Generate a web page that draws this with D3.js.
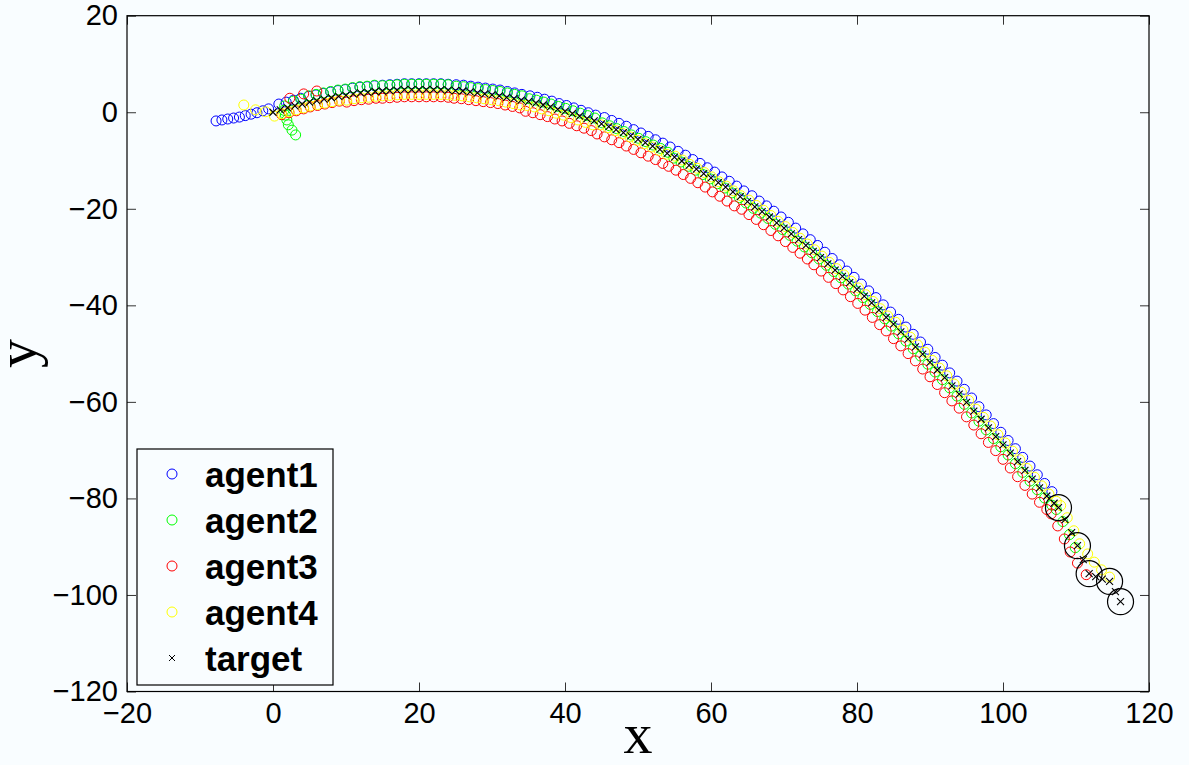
<!DOCTYPE html>
<html>
<head>
<meta charset="utf-8">
<script src="https://cdn.jsdelivr.net/npm/d3@7"></script>
<style>
  html, body { margin: 0; padding: 0; background: #f9fdff; }
  svg { display: block; }
  .tick text { font-family: "Liberation Sans", Arial, sans-serif; font-size: 29px; fill: #000; }
  .tick line { stroke: #333; }
</style>
</head>
<body>
<div id="chart"></div>
<script>
// Dados
const xTicks = [-20, 0, 20, 40, 60, 80, 100, 120];
const yTicks = [-120, -100, -80, -60, -40, -20, 0, 20];
const legendLabels = ['agent1', 'agent2', 'agent3', 'agent4', 'target'];

const targetX = [0,1,2,3,4,5,6,7,8,9,10,11,12,13,14,15,16,17,18,19,20,21,22,23,24,25,26,27,28,29,
  30,31,32,33,34,35,36,37,38,39,40,41,42,43,44,45,46,47,48,49,50,51,52,53,54,55,56,57,58,59,
  60,61,62,63,64,65,66,67,68,69,70,71,72,73,74,75,76,77,78,79,80,81,82,83,84,85,86,87,88,89,
  90,91,92,93,94,95,96,97,98,99,100,101,102,103,104,105,106,107,
  107.6,108.5,109.4,110.2,111.0,111.8,112.7,113.6,114.6,115.4,116.1];
const targetY = [0,0.5,0.9,1.3,1.7,2.1,2.4,2.7,3.0,3.3,
  3.5,3.8,4.0,4.1,4.3,4.4,4.5,4.6,4.7,4.7,
  4.7,4.7,4.7,4.7,4.6,4.5,4.4,4.2,4.0,3.8,
  3.6,3.4,3.1,2.8,2.5,2.2,1.9,1.5,1.1,0.6,
  0.2,-0.3,-0.8,-1.3,-1.8,-2.4,-3.0,-3.6,-4.2,-4.9,
  -5.6,-6.3,-7.0,-7.7,-8.5,-9.3,-10.1,-11.0,-11.8,-12.7,
  -13.6,-14.6,-15.5,-16.5,-17.5,-18.5,-19.6,-20.6,-21.7,-22.9,
  -24.0,-25.2,-26.4,-27.6,-28.8,-30.1,-31.4,-32.7,-34.0,-35.3,
  -36.7,-38.1,-39.5,-41.0,-42.5,-43.9,-45.5,-47.0,-48.6,-50.1,
  -51.8,-53.4,-55.0,-56.7,-58.4,-60.1,-61.9,-63.6,-65.4,-67.2,
  -68.9,-70.6,-72.4,-74.2,-76.0,-77.8,-79.5,-81.0,
  -81.9,-84.4,-87.1,-89.8,-92.7,-95.6,-96.2,-96.7,-97.2,-99.3,-101.4];

const agent1X = [-7.8,-7.0,-6.2,-5.4,-4.6,-3.8,-3.0,-2.2,-1.4,-0.6,
  0.8,1.8,2.8,3.8,4.9,5.9,6.9,7.9,8.9,9.9,
  10.9,11.9,12.9,13.9,15,16,17,18,19,20,
  21,22,23,24,25.1,26.1,27.1,28.1,29.1,30.1,
  31.1,32.1,33.1,34.1,35.2,36.2,37.2,38.2,39.2,40.2,
  41.2,42.2,43.2,44.2,45.4,46.4,47.4,48.4,49.4,50.4,
  51.4,52.4,53.4,54.4,55.5,56.5,57.5,58.5,59.5,60.5,
  61.5,62.5,63.5,64.5,65.6,66.6,67.6,68.6,69.6,70.6,
  71.6,72.6,73.6,74.6,75.6,76.6,77.6,78.6,79.6,80.6,
  81.6,82.6,83.6,84.6,85.7,86.7,87.7,88.7,89.7,90.7,
  91.7,92.7,93.7,94.7,95.7,96.7,97.7,98.7,99.7,100.7,
  101.7,102.7,103.7,104.7,105.7,106.7];
const agent1Y = [-1.8,-1.6,-1.4,-1.2,-1.0,-0.7,-0.4,-0.1,0.3,0.7,
  1.7,2.1,2.5,2.9,3.3,3.6,3.9,4.2,4.5,4.7,
  5.0,5.2,5.3,5.5,5.6,5.7,5.8,5.9,5.9,5.9,
  5.9,5.9,5.9,5.8,5.7,5.6,5.4,5.2,5.0,4.8,
  4.6,4.3,4.0,3.7,3.4,3.1,2.7,2.3,1.8,1.4,
  0.9,0.4,-0.1,-0.6,-1.1,-1.7,-2.3,-2.9,-3.6,-4.3,
  -5.0,-5.7,-6.4,-7.2,-8.1,-8.9,-9.8,-10.6,-11.5,-12.4,
  -13.4,-14.3,-15.3,-16.3,-17.3,-18.4,-19.4,-20.5,-21.7,-22.8,
  -24.0,-25.2,-26.4,-27.6,-29.0,-30.3,-31.6,-32.9,-34.2,-35.6,
  -37.0,-38.4,-39.9,-41.4,-42.9,-44.5,-46.0,-47.6,-49.1,-50.8,
  -52.4,-54.0,-55.7,-57.4,-59.2,-61.0,-62.7,-64.5,-66.3,-68.0,
  -69.7,-71.5,-73.3,-75.1,-76.9,-78.6];

const agent2X = [3.1,2.6,2.1,1.9,1.7,1.5,1.6,
  2.8,3.8,4.9,5.9,6.9,7.9,8.9,9.9,10.9,11.9,
  12.9,13.9,15,16,17,18,19,20,21,22,
  23,24,25.1,26.1,27.1,28.1,29.1,30.1,31.1,32.1,
  33.1,34.1,35.1,36.1,37.1,38.1,39.1,40.1,41.1,42.1,
  43.1,44.1,45.1,46.1,47.1,48.1,49.1,50.1,51.1,52.1,
  53.1,54.1,54.9,55.9,56.9,57.9,58.9,59.9,60.9,61.9,
  62.9,63.9,64.8,65.8,66.8,67.8,68.8,69.8,70.8,71.8,
  72.8,73.8,74.8,75.8,76.8,77.8,78.8,79.8,80.8,81.8,
  82.8,83.8,84.7,85.7,86.7,87.7,88.7,89.7,90.7,91.7,
  92.7,93.7,94.7,95.7,96.7,97.7,98.7,99.7,100.7,101.7,
  102.7,103.7,104.7,105.7,106.7,
  107.3,108.2,109.1,109.9];
const agent2Y = [-4.7,-3.7,-2.6,-1.6,-0.6,0.4,1.3,
  2.3,2.7,3.4,3.7,4.0,4.3,4.6,4.8,5.1,5.3,
  5.4,5.6,5.5,5.6,5.7,5.8,5.8,5.8,5.8,5.8,
  5.8,5.7,5.4,5.3,5.1,4.9,4.7,4.5,4.3,4.0,
  3.7,3.4,2.8,2.5,2.1,1.7,1.2,0.8,0.3,-0.2,
  -0.7,-1.2,-2.2,-2.8,-3.4,-4.0,-4.7,-5.4,-6.1,-6.8,
  -7.5,-8.3,-9.5,-10.3,-11.2,-12.0,-12.9,-13.8,-14.8,-15.7,
  -16.7,-17.7,-18.8,-19.9,-20.9,-22.0,-23.2,-24.3,-25.5,-26.7,
  -27.9,-29.1,-30.4,-31.7,-33.0,-34.3,-35.6,-37.0,-38.4,-39.8,
  -41.3,-42.8,-44.3,-45.9,-47.4,-49.0,-50.5,-52.2,-53.8,-55.4,
  -57.1,-58.8,-60.5,-62.3,-64.0,-65.8,-67.6,-69.3,-71.0,-72.8,
  -74.6,-76.4,-78.2,-79.9,-81.4,
  -82.3,-84.8,-87.5,-90.2];

const agent3X = [2.3,4.2,6.0,
  1.2,2.2,3.2,4.2,5.1,6.1,7.1,8.1,9.1,10.1,
  11.1,12.1,13.1,14.1,15,16,17,18,19,20,
  21,22,23,24,24.8,25.8,26.8,27.8,28.8,29.8,
  30.8,31.8,32.8,33.8,34.6,35.6,36.6,37.6,38.6,39.6,
  40.6,41.6,42.6,43.6,44.4,45.4,46.4,47.4,48.4,49.4,
  50.4,51.4,52.4,53.4,54.2,55.2,56.2,57.2,58.2,59.2,
  60.2,61.2,62.2,63.2,64.2,65.2,66.2,67.2,68.2,69.2,
  70.2,71.2,72.2,73.2,74.1,75.1,76.1,77.1,78.1,79.1,
  80.1,81.1,82.1,83.1,84.0,85.0,86.0,87.0,88.0,89.0,
  90.0,91.0,92.0,93.0,94.0,95.0,96.0,97.0,98.0,99.0,
  100.0,101.0,102.0,103.0,104.0,105.0,106.0,
  106.6,107.5,108.4,109.2,110.2,111.4];
const agent3Y = [2.9,3.8,4.4,
  -0.5,-0.1,0.3,0.7,1.1,1.4,1.7,2.0,2.3,2.1,
  2.4,2.6,2.7,2.9,2.9,3.0,3.1,3.2,3.2,3.2,
  3.2,3.2,3.2,3.1,2.9,2.8,2.6,2.4,2.2,2.0,
  1.8,1.5,1.2,0.9,0.2,-0.1,-0.5,-0.9,-1.4,-1.8,
  -2.3,-2.8,-3.3,-3.8,-4.5,-5.1,-5.7,-6.3,-7.0,-7.7,
  -8.4,-9.1,-9.8,-10.6,-11.2,-12.0,-12.9,-13.7,-14.6,-15.5,
  -16.5,-17.4,-18.4,-19.4,-20.1,-21.2,-22.2,-23.3,-24.5,-25.6,
  -26.8,-28.0,-29.2,-30.4,-31.6,-32.9,-34.2,-35.5,-36.8,-38.2,
  -39.6,-41.0,-42.5,-44.0,-45.3,-46.9,-48.4,-50.0,-51.5,-53.2,
  -54.8,-56.4,-58.1,-59.8,-61.3,-63.1,-64.8,-66.6,-68.4,-70.1,
  -71.9,-73.7,-75.5,-77.3,-79.1,-80.8,-82.3,
  -83.2,-85.7,-88.4,-91.1,-93.4,-95.8];

const agent4X = [-4.0,-2.4,-1.0,
  0.2,1.2,2.2,3.2,4.2,5.1,6.1,7.1,8.1,9.1,
  10.1,11.1,12.1,13.1,14.1,15,16,17,18,19,
  20,21,22,23,24,24.9,25.9,26.9,27.9,28.9,
  29.9,30.9,31.9,32.9,33.9,34.8,35.8,36.8,37.8,38.8,
  39.8,40.8,41.8,42.8,43.8,44.9,45.9,46.9,47.9,48.9,
  49.9,50.9,51.9,52.9,53.9,55.1,56.1,57.1,58.1,59.1,
  60.1,61.1,62.1,63.1,64.1,65.2,66.2,67.2,68.2,69.2,
  70.2,71.2,72.2,73.2,74.2,75.2,76.2,77.2,78.2,79.2,
  80.2,81.2,82.2,83.2,84.2,85.3,86.3,87.3,88.3,89.3,
  90.3,91.3,92.3,93.3,94.3,95.3,96.3,97.3,98.3,99.3,
  100.3,101.3,102.3,103.3,104.3,105.3,106.3,107.3,
  107.9,108.8,109.7,110.5,111.6,112.5,113.5,114.6];
const agent4Y = [1.5,0.5,0.1,
  -0.8,-0.3,0.1,0.5,0.9,1.3,1.6,1.9,2.2,2.5,
  2.5,2.8,3.0,3.1,3.3,3.4,3.5,3.6,3.7,3.7,
  3.7,3.7,3.7,3.7,3.6,3.5,3.4,3.2,3.0,2.8,
  2.6,2.4,2.1,1.8,1.5,1.4,1.1,0.7,0.3,-0.2,
  -0.6,-1.1,-1.6,-2.1,-2.6,-2.6,-3.2,-3.8,-4.4,-5.1,
  -5.8,-6.5,-7.2,-7.9,-8.7,-9.1,-9.9,-10.8,-11.6,-12.5,
  -13.4,-14.4,-15.3,-16.3,-17.3,-18.2,-19.3,-20.3,-21.4,-22.6,
  -23.7,-24.9,-26.1,-27.3,-28.5,-29.8,-31.1,-32.4,-33.7,-35.0,
  -36.4,-37.8,-39.2,-40.7,-42.2,-43.5,-45.1,-46.6,-48.2,-49.7,
  -51.4,-53.0,-54.6,-56.3,-58.0,-59.7,-61.5,-63.2,-65.0,-66.8,
  -68.5,-70.2,-72.0,-73.8,-75.6,-77.4,-79.1,-80.6,
  -81.5,-84.0,-86.7,-89.4,-91.5,-93.2,-94.8,-96.3];

// posições finais do alvo destacadas com círculos grandes
const captureX = [107.6, 110.2, 111.8, 114.6, 116.1];
const captureY = [-81.9, -89.8, -95.6, -97.2, -101.4];

const W = 1189, H = 765;
const plot = { left: 127, right: 1149, top: 15.7, bottom: 691.5 };

const svg = d3.select('#chart').append('svg')
  .attr('width', W)
  .attr('height', H);

svg.append('rect').attr('width', W).attr('height', H).attr('fill', '#f9fdff');

const x = d3.scaleLinear().domain([-20, 120]).range([plot.left, plot.right]);
const y = d3.scaleLinear().domain([-120, 20]).range([plot.bottom, plot.top]);

// Eixos (ticks para dentro, nos quatro lados)
const tick = 9;
svg.append('g')
  .attr('transform', `translate(0,${plot.bottom})`)
  .call(d3.axisBottom(x).tickValues(xTicks).tickSize(-tick).tickSizeOuter(0).tickPadding(11));
svg.append('g')
  .attr('transform', `translate(0,${plot.top})`)
  .call(d3.axisTop(x).tickValues(xTicks).tickSize(-tick).tickSizeOuter(0).tickFormat(''));
svg.append('g')
  .attr('transform', `translate(${plot.left},0)`)
  .call(d3.axisLeft(y).tickValues(yTicks).tickSize(-tick).tickSizeOuter(0).tickPadding(9));
svg.append('g')
  .attr('transform', `translate(${plot.right},0)`)
  .call(d3.axisRight(y).tickValues(yTicks).tickSize(-tick).tickSizeOuter(0).tickFormat(''));
svg.selectAll('.domain').remove();

svg.append('rect')
  .attr('x', plot.left).attr('y', plot.top)
  .attr('width', plot.right - plot.left).attr('height', plot.bottom - plot.top)
  .attr('fill', 'none').attr('stroke', '#000').attr('stroke-width', 1.2);

// Séries
const series = [
  { xs: agent1X, ys: agent1Y, color: '#0000ff' },
  { xs: agent2X, ys: agent2Y, color: '#00ff00' },
  { xs: agent3X, ys: agent3Y, color: '#ff0000' },
  { xs: agent4X, ys: agent4Y, color: '#ffff00' }
];

const marks = svg.append('g');
series.forEach(s => {
  marks.append('g')
    .selectAll('circle')
    .data(d3.zip(s.xs, s.ys))
    .join('circle')
    .attr('cx', d => x(d[0]))
    .attr('cy', d => y(d[1]))
    .attr('r', 5)
    .attr('fill', 'none')
    .attr('stroke', s.color)
    .attr('stroke-width', 1);
});

const cross = 'M-3.5,-3.5L3.5,3.5M-3.5,3.5L3.5,-3.5';
marks.append('g')
  .selectAll('path')
  .data(d3.zip(targetX, targetY))
  .join('path')
  .attr('d', cross)
  .attr('transform', d => `translate(${x(d[0])},${y(d[1])})`)
  .attr('stroke', '#000')
  .attr('stroke-width', 1.1)
  .attr('fill', 'none');

marks.append('g')
  .selectAll('circle')
  .data(d3.zip(captureX, captureY))
  .join('circle')
  .attr('cx', d => x(d[0]))
  .attr('cy', d => y(d[1]))
  .attr('r', 13)
  .attr('fill', 'none')
  .attr('stroke', '#000')
  .attr('stroke-width', 1.2);

// Rótulos dos eixos
svg.append('text')
  .attr('x', (plot.left + plot.right) / 2)
  .attr('y', 753)
  .attr('text-anchor', 'middle')
  .attr('font-family', '"Liberation Serif", "Times New Roman", serif')
  .attr('font-size', 58)
  .text('x');

svg.append('text')
  .attr('transform', `translate(36,${(plot.top + plot.bottom) / 2}) rotate(-90)`)
  .attr('text-anchor', 'middle')
  .attr('font-family', '"Liberation Serif", "Times New Roman", serif')
  .attr('font-size', 58)
  .text('y');

// Legenda
const legend = svg.append('g');
legend.append('rect')
  .attr('x', 137).attr('y', 449)
  .attr('width', 196).attr('height', 236)
  .attr('fill', '#f9fdff').attr('stroke', '#000').attr('stroke-width', 1.2);

const rowY = d3.scalePoint().domain(legendLabels).range([474, 658]);
const legendColors = series.map(s => s.color);

legendLabels.forEach((label, i) => {
  const g = legend.append('g').attr('transform', `translate(172,${rowY(label)})`);
  if (i < 4) {
    g.append('circle').attr('r', 5).attr('fill', 'none')
      .attr('stroke', legendColors[i]).attr('stroke-width', 1);
  } else {
    g.append('path').attr('d', 'M-3,-3L3,3M-3,3L3,-3').attr('stroke', '#000').attr('fill', 'none');
  }
  g.append('text')
    .attr('x', 33)
    .attr('dy', '0.36em')
    .attr('font-family', '"Liberation Sans", Arial, sans-serif')
    .attr('font-weight', 'bold')
    .attr('font-size', 35)
    .text(label);
});
</script>
</body>
</html>
